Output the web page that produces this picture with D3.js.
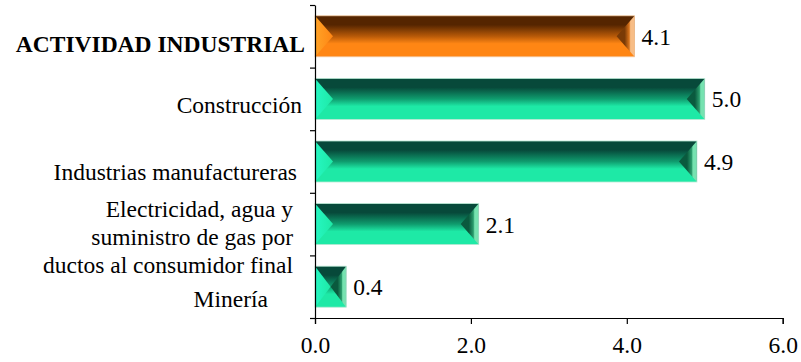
<!DOCTYPE html>
<html>
<head>
<meta charset="utf-8">
<script src="https://cdn.jsdelivr.net/npm/d3@7/dist/d3.min.js"></script>
<style>
  html, body { margin: 0; padding: 0; background: #fff; }
  svg { display: block; }
  text { font-family: "Liberation Serif", "Times New Roman", serif; fill: #000; }
</style>
</head>
<body>
<svg id="chart" width="801" height="362"></svg>
<script>
// Annual variation by industrial sector (%)
const categories = [
  "ACTIVIDAD INDUSTRIAL",
  "Construcción",
  "Industrias manufactureras",
  "Electricidad, agua y\nsuministro de gas por\nductos al consumidor final",
  "Minería"
];
const values = [4.1, 5.0, 4.9, 2.1, 0.4];
const xTicks = [0, 2, 4, 6];
const totalCategory = "ACTIVIDAD INDUSTRIAL";

const W = 801, H = 362;
const margin = { left: 315, right: 18.3, top: 5, bottom: 44 };
const fontSize = 23.5;

const svg = d3.select("#chart");

const x = d3.scaleLinear().domain([0, 6]).range([margin.left, W - margin.right]);
const y = d3.scaleBand()
  .domain(categories)
  .range([margin.top, H - margin.bottom])
  .paddingInner(0.345)
  .paddingOuter(0.1725);

// colour schemes for the bevelled bars
const palettes = {
  total: { dark: "#552500", mid: "#b85a08", bright: "#ff8614", light: "#ffa326",
           bevelDark: "#7a3a06", bevelMid: "#d9731a", bevelLight: "#f7bd86", edge: "#f3c9a0" },
  sector: { dark: "#07493a", mid: "#0f9c6e", bright: "#1ee9a6", light: "#26f7c2",
            bevelDark: "#0a5a3e", bevelMid: "#2a9c6c", bevelLight: "#76e2b0", edge: "#b8e8d4" }
};

const defs = svg.append("defs");
Object.entries(palettes).forEach(([key, p]) => {
  const body = defs.append("linearGradient").attr("id", "body-" + key)
    .attr("x1", 0).attr("y1", 0).attr("x2", 0).attr("y2", 1);
  [[0, p.dark], [0.22, p.dark], [0.5, p.mid], [0.68, p.bright], [1, p.bright]]
    .forEach(([o, c]) => body.append("stop").attr("offset", o).attr("stop-color", c));

  const left = defs.append("linearGradient").attr("id", "left-" + key)
    .attr("x1", 0).attr("y1", 0).attr("x2", 1).attr("y2", 0);
  [[0, p.light], [1, p.bright]]
    .forEach(([o, c]) => left.append("stop").attr("offset", o).attr("stop-color", c));

  const right = defs.append("linearGradient").attr("id", "right-" + key)
    .attr("x1", 0).attr("y1", 0).attr("x2", 1).attr("y2", 0);
  [[0, p.bevelDark], [0.45, p.bevelDark], [0.7, p.bevelMid], [0.78, p.bevelLight], [0.95, p.bevelLight], [1, p.bevelMid]]
    .forEach(([o, c]) => right.append("stop").attr("offset", o).attr("stop-color", c));
});

const data = categories.map((c, i) => ({ category: c, value: values[i], key: c === totalCategory ? "total" : "sector" }));

const bars = svg.append("g").selectAll("g").data(data).join("g");

bars.each(function (d) {
  const g = d3.select(this);
  const x0 = x(0), x1 = x(d.value);
  const y0 = y(d.category), h = y.bandwidth(), y1 = y0 + h, yc = y0 + h / 2;
  const bevel = Math.min(18, (x1 - x0) / 2);
  const p = palettes[d.key];

  g.append("rect")
    .attr("x", x0).attr("y", y0).attr("width", x1 - x0).attr("height", h)
    .attr("fill", `url(#body-${d.key})`);

  g.append("path")
    .attr("d", `M${x0},${y0}L${x0 + bevel},${yc}L${x0},${y1}Z`)
    .attr("fill", `url(#left-${d.key})`);

  g.append("path")
    .attr("d", `M${x1},${y0}L${x1 - bevel},${yc}L${x1},${y1}Z`)
    .attr("fill", `url(#right-${d.key})`);

  g.append("rect")
    .attr("x", x0).attr("y", y0).attr("width", x1 - x0).attr("height", h)
    .attr("fill", "none").attr("stroke", p.edge).attr("stroke-width", 0.8);
});

// value labels
svg.append("g").selectAll("text").data(data).join("text")
  .attr("x", d => x(d.value) + 7)
  .attr("y", d => y(d.category) + y.bandwidth() / 2)
  .attr("dy", "0.36em")
  .attr("font-size", fontSize)
  .text(d => d3.format(".1f")(d.value));

// category labels (hand-nudged text boxes)
const labelNudge = { 0: [0, 7], 1: [-3, 5.6], 2: [-8, 10.3], 3: [-12, 12.8], 4: [-37, 11.8] };
const catLabels = svg.append("g").selectAll("text").data(data).join("text")
  .attr("text-anchor", "end")
  .attr("font-size", fontSize)
  .attr("font-weight", d => d.key === "total" ? "bold" : "normal")
  .attr("transform", (d, i) => {
    const [dx, dy] = labelNudge[i];
    return `translate(${margin.left - 10 + dx},${y(d.category) + y.bandwidth() / 2 + dy})`;
  });

catLabels.each(function (d) {
  const lines = d.category.split("\n");
  const t = d3.select(this);
  const lh = 1.2;
  lines.forEach((line, k) => {
    t.append("tspan")
      .attr("x", 0)
      .attr("y", 0)
      .attr("dy", ((k - (lines.length - 1) / 2) * lh + 0.35) + "em")
      .text(line);
  });
});

// x axis
const xAxis = svg.append("g")
  .attr("transform", `translate(0,${H - margin.bottom})`)
  .call(d3.axisBottom(x).tickValues(xTicks).tickFormat(d3.format(".1f")).tickSizeOuter(0).tickSize(6).tickPadding(12));
xAxis.selectAll("text").attr("font-size", fontSize).attr("font-family", "Liberation Serif, serif").attr("fill", "#000");
xAxis.selectAll("line, path").attr("stroke", "#000").attr("stroke-width", 1.2);

// y axis with ticks between categories
const yEdges = d3.scaleLinear().domain([0, categories.length]).range([margin.top, H - margin.bottom]);
const yAxis = svg.append("g")
  .attr("transform", `translate(${margin.left},0)`)
  .call(d3.axisLeft(yEdges).ticks(categories.length).tickFormat("").tickSize(5).tickSizeOuter(0));
yAxis.selectAll("line, path").attr("stroke", "#000").attr("stroke-width", 1.2);
</script>
</body>
</html>
